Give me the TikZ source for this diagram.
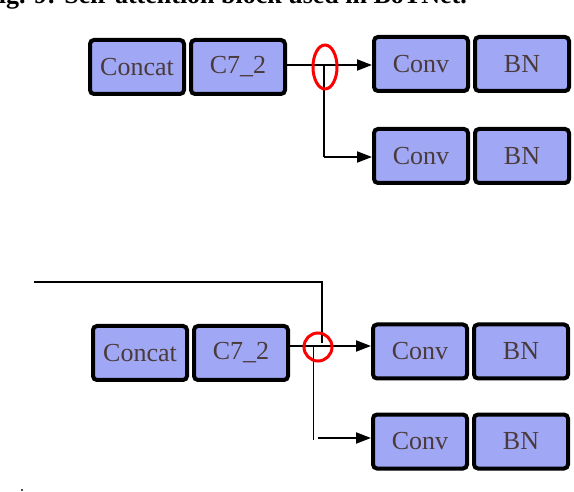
\documentclass[tikz,border=0pt]{standalone}
\usepackage{fontspec}
\setmainfont{Liberation Serif}
\usetikzlibrary{arrows.meta,positioning}
\definecolor{blockfill}{RGB}{160,168,245}
\definecolor{blocktext}{RGB}{75,58,58}

\begin{document}
\begin{tikzpicture}[x=1pt, y=-1pt,
  blk/.style={draw, line width=4pt, rounded corners=4pt, fill=blockfill, text=blocktext,
    minimum width=94pt, minimum height=54pt, inner sep=0pt,
    font=\fontsize{26}{30}\selectfont},
  wire/.style={line width=2pt},
  arr/.style={line width=2pt, -{Triangle[length=15pt,width=11pt]}},
  redring/.style={red, line width=3pt},
  node distance=3pt]
\useasboundingbox (0,0) rectangle (574,492);
% caption, cut off at the top
\node[anchor=base east, inner sep=0pt, font=\fontsize{26}{30}\selectfont\bfseries] (cap) at (467,4) {Fig. 9: Self-attention block used in BoTNet.};
% top
\node[blk] (concatA) at (137,67) {Concat};
\node[blk, right=of concatA] (c72A) {C7\_2};
\node[blk] (convA) at (421,64) {Conv};
\node[blk, right=of convA] (bnA) {BN};
\node[blk] (convB) at (421,156) {Conv};
\node[blk, right=of convB] (bnB) {BN};
\coordinate (splitA) at (324,65);
\coordinate (turnA) at (324,157);
\draw[arr] (c72A.east |- splitA) -- (splitA -| convA.west);
\draw[wire] (splitA) -- (turnA);
\draw[arr] (turnA) -- (turnA -| convB.west);
\draw[redring] (splitA) ++(1,2) ellipse (12 and 22);
% bottom
\node[blk] (concatB) at (140,353) {Concat};
\node[blk, right=of concatB] (c72B) {C7\_2};
\node[blk] (convC) at (420,351.5) {Conv};
\node[blk, right=of convC] (bnC) {BN};
\node[blk] (convD) at (420,441.5) {Conv};
\node[blk, right=of convD] (bnD) {BN};
\coordinate (inB) at (34,282);
\coordinate (dropB) at (322,343);
\coordinate (splitB) at (313,346);
\coordinate (endB) at (313,440);
\coordinate (startD) at (318,438);
\draw[line width=1.5pt] (inB) -| (dropB);
\draw[arr] (c72B.east |- splitB) -- (splitB -| convC.west);
\draw[line width=1pt] (splitB) -- (endB);
\draw[arr] (startD) -- (startD -| convD.west);
\draw[redring] (318,347) circle (14);
\fill[black!70] (21,489) rectangle (23,491);
\end{tikzpicture}
\end{document}
